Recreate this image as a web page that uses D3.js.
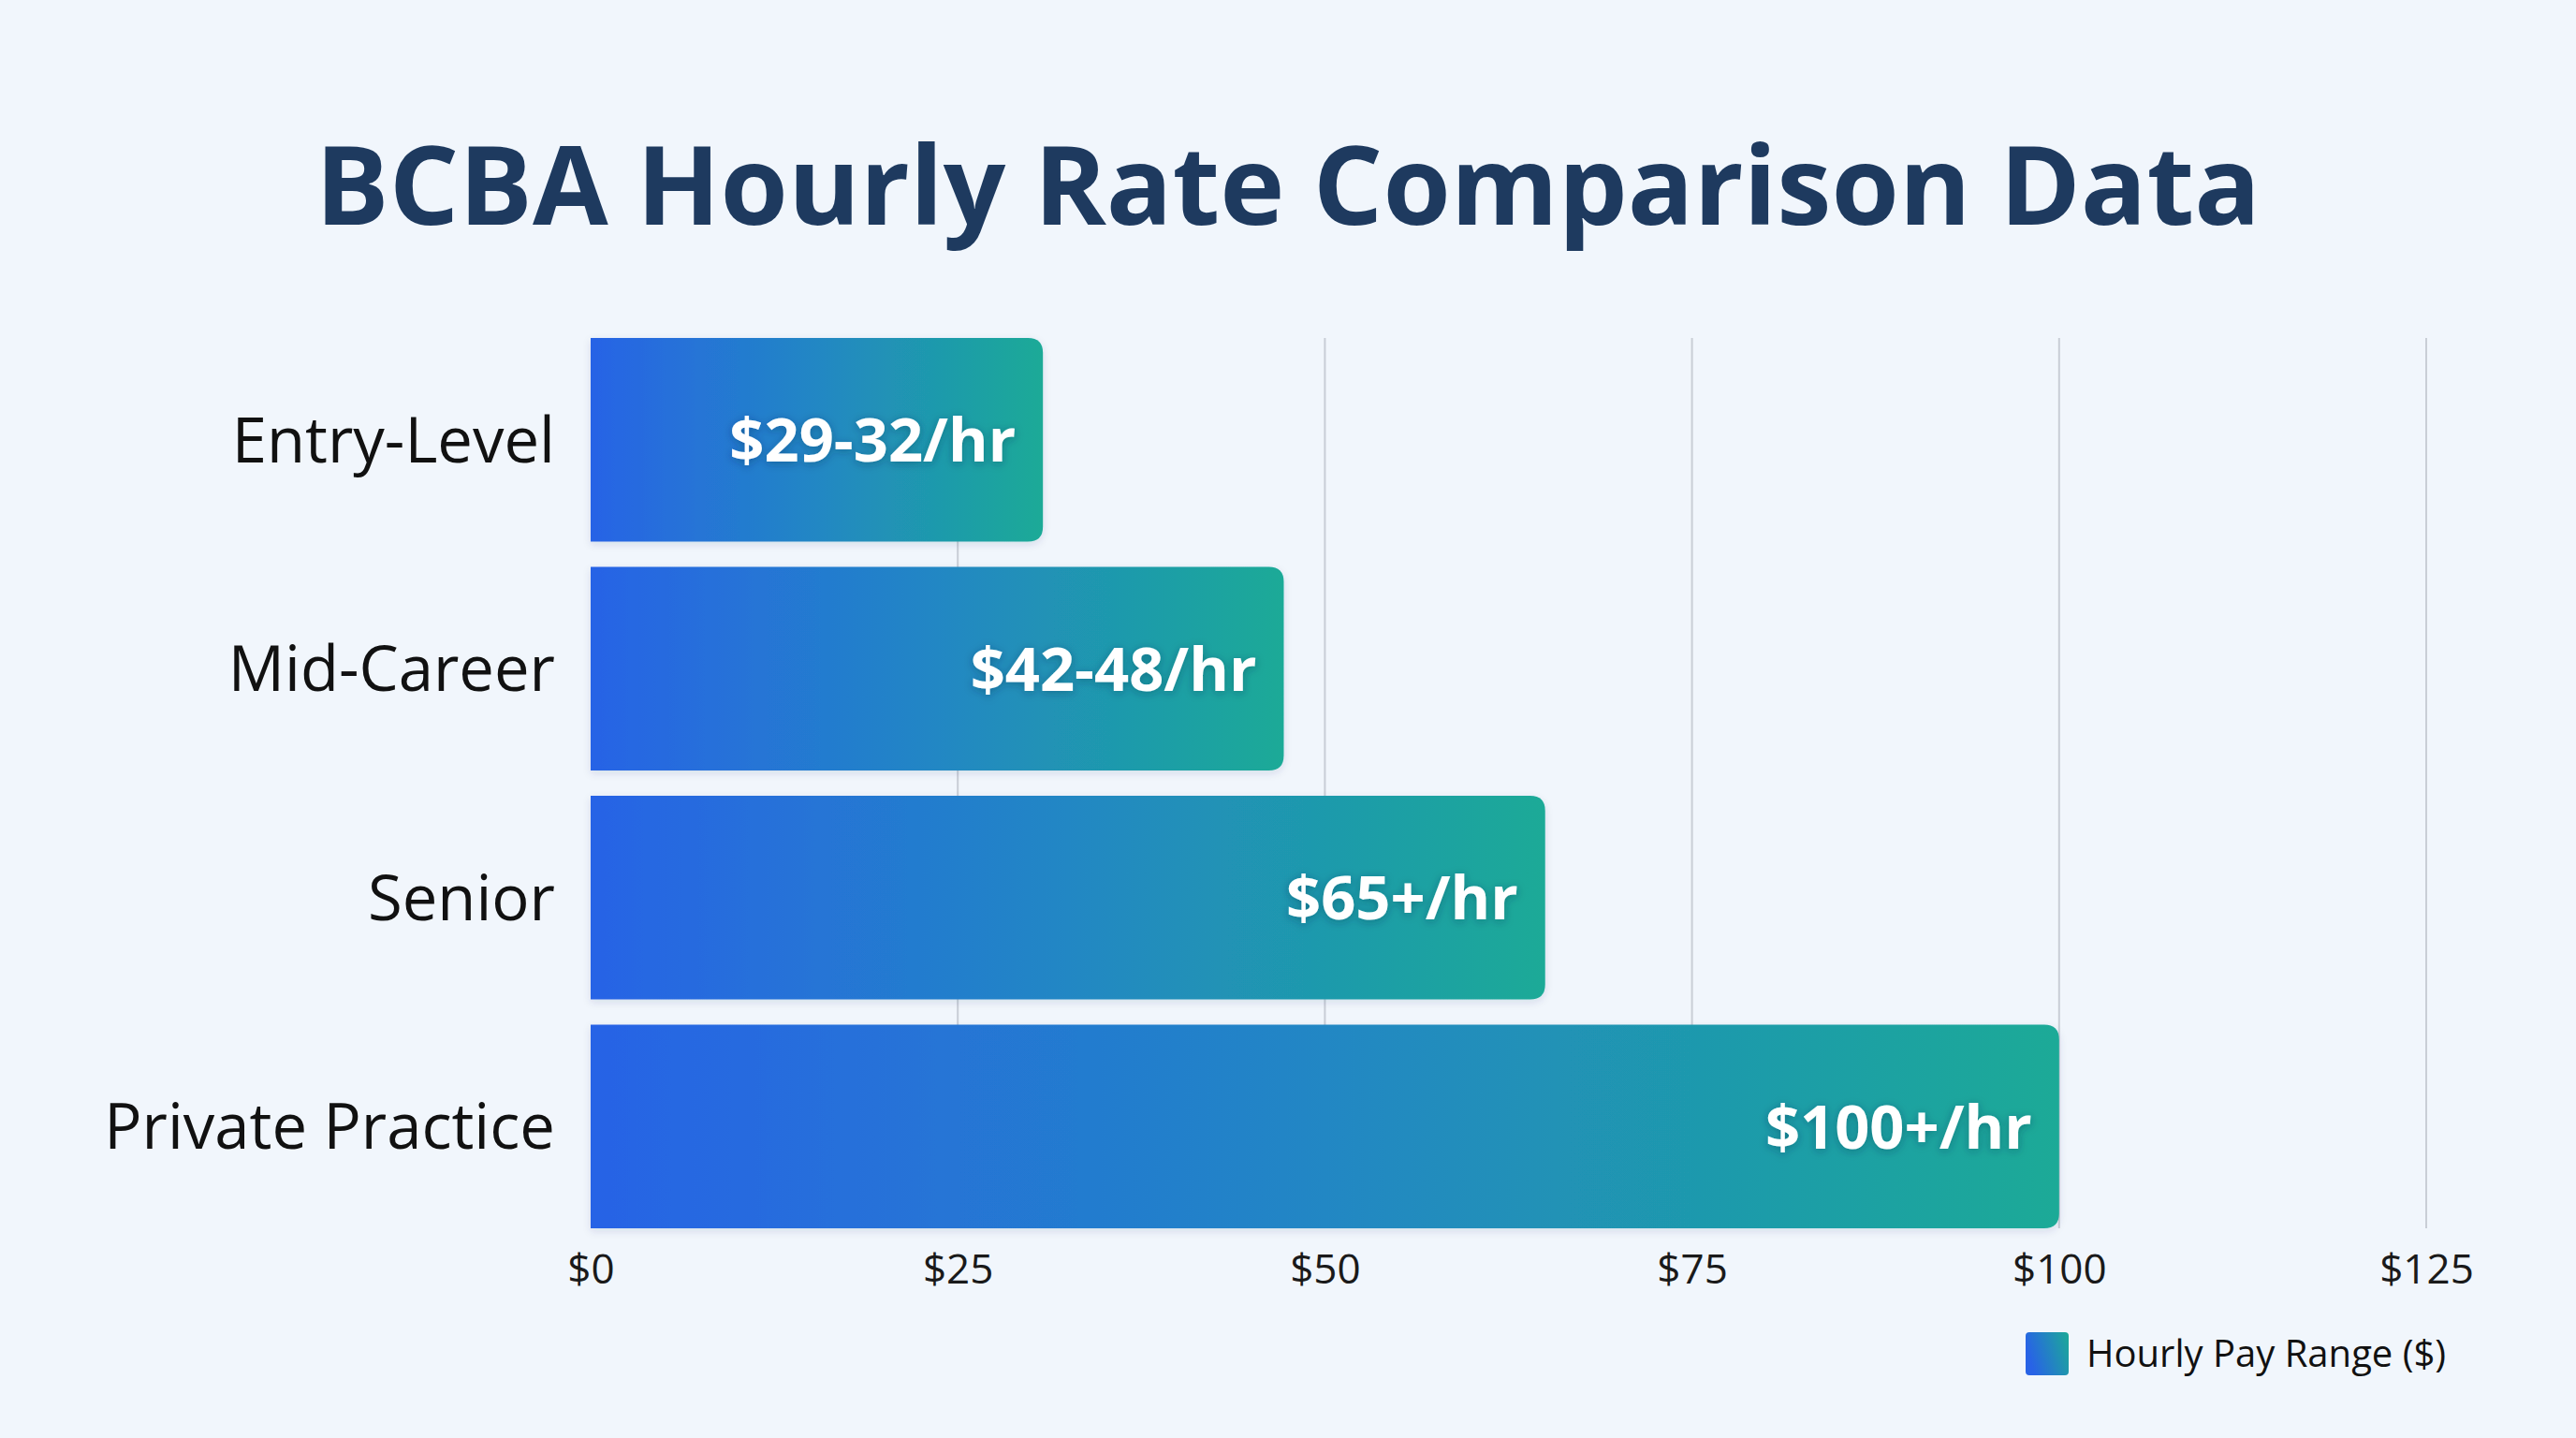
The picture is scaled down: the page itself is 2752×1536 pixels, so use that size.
<!DOCTYPE html>
<html>
<head>
<meta charset="utf-8">
<script src="https://cdn.jsdelivr.net/npm/d3@7"></script>
<style>
  html, body { margin: 0; padding: 0; background: #f1f6fc; }
  svg { display: block; }
</style>
</head>
<body>
<div class="container"></div>
<script>
// data
const categories = ["Entry-Level", "Mid-Career", "Senior", "Private Practice"];
const rateValues = [30.8, 47.2, 65, 100];
const rateLabels = ["$29-32/hr", "$42-48/hr", "$65+/hr", "$100+/hr"];
const tickValues = [0, 25, 50, 75, 100, 125];
const legendLabel = "Hourly Pay Range ($)";
const titleText = "BCBA Hourly Rate Comparison Data";

const width = 2752;
const height = 1536;

const svg = d3
  .select(".container")
  .append("svg")
  .attr("width", width)
  .attr("height", height);

const defs = svg.append("defs");

// per bar gradient, blue -> teal
const grad = defs.append("linearGradient")
  .attr("id", "barGrad")
  .attr("x1", "0%").attr("y1", "0%")
  .attr("x2", "100%").attr("y2", "0%");
grad.append("stop").attr("offset", "0%").attr("stop-color", "#2863e6");
grad.append("stop").attr("offset", "50%").attr("stop-color", "#2287c4");
grad.append("stop").attr("offset", "100%").attr("stop-color", "#1caa97");

const legendGrad = defs.append("linearGradient")
  .attr("id", "legendGrad")
  .attr("x1", "0%").attr("y1", "30%")
  .attr("x2", "100%").attr("y2", "0%");
legendGrad.append("stop").attr("offset", "0%").attr("stop-color", "#2863e6");
legendGrad.append("stop").attr("offset", "100%").attr("stop-color", "#1caa97");

const barShadow = defs.append("filter").attr("id", "barShadow")
  .attr("x", "-5%").attr("y", "-10%").attr("width", "110%").attr("height", "130%");
barShadow.append("feDropShadow")
  .attr("dx", 0).attr("dy", 3).attr("stdDeviation", 4)
  .attr("flood-color", "#1e3a5f").attr("flood-opacity", 0.12);

const textShadow = defs.append("filter").attr("id", "textShadow")
  .attr("x", "-10%").attr("y", "-30%").attr("width", "120%").attr("height", "160%");
textShadow.append("feDropShadow")
  .attr("dx", 0).attr("dy", 2).attr("stdDeviation", 5)
  .attr("flood-color", "#0b2a4a").attr("flood-opacity", 0.35);

// scales
const x = d3.scaleLinear().domain([0, 125]).range([631, 2592]);
const y = d3.scaleBand().domain(categories).range([361, 1312]).paddingInner(0.11);

// title
svg.append("text")
  .attr("x", width / 2)
  .attr("y", 240)
  .attr("text-anchor", "middle")
  .style("font-family", "'Open Sans', sans-serif")
  .style("font-weight", 700)
  .style("font-size", "117px")
  .style("fill", "#1e3a5f")
  .text(titleText);

// gridlines
svg.append("g")
  .selectAll("line")
  .data(tickValues.filter(function (d) { return d > 0; }))
  .enter()
  .append("line")
  .attr("x1", function (d) { return x(d); })
  .attr("x2", function (d) { return x(d); })
  .attr("y1", y.range()[0])
  .attr("y2", y.range()[1])
  .style("stroke", "#c9ced6")
  .style("stroke-width", 2);

// bars, rounded on the right side only
function rightRounded(x0, y0, w, h, r) {
  return "M" + x0 + "," + y0 +
    "H" + (x0 + w - r) +
    "Q" + (x0 + w) + "," + y0 + " " + (x0 + w) + "," + (y0 + r) +
    "V" + (y0 + h - r) +
    "Q" + (x0 + w) + "," + (y0 + h) + " " + (x0 + w - r) + "," + (y0 + h) +
    "H" + x0 + "Z";
}

const rows = categories.map(function (c, i) {
  return { name: c, value: rateValues[i], label: rateLabels[i] };
});

svg.append("g")
  .selectAll("path")
  .data(rows)
  .enter()
  .append("path")
  .attr("d", function (d) {
    return rightRounded(x(0), y(d.name), x(d.value) - x(0), y.bandwidth(), 16);
  })
  .style("fill", "url(#barGrad)")
  .attr("filter", "url(#barShadow)");

// value labels inside bars
svg.append("g")
  .selectAll("text")
  .data(rows)
  .enter()
  .append("text")
  .attr("x", function (d) { return x(d.value) - 29; })
  .attr("y", function (d) { return y(d.name) + y.bandwidth() / 2; })
  .attr("dy", "0.36em")
  .attr("text-anchor", "end")
  .attr("filter", "url(#textShadow)")
  .style("font-family", "'Open Sans', sans-serif")
  .style("font-weight", 700)
  .style("font-size", "65px")
  .style("fill", "#ffffff")
  .text(function (d) { return d.label; });

// category labels
svg.append("g")
  .selectAll("text")
  .data(categories)
  .enter()
  .append("text")
  .attr("x", 593)
  .attr("y", function (d) { return y(d) + y.bandwidth() / 2; })
  .attr("dy", "0.36em")
  .attr("text-anchor", "end")
  .style("font-family", "'Open Sans', sans-serif")
  .style("font-size", "67px")
  .style("fill", "#111111")
  .text(function (d) { return d; });

// x axis
const xAxis = svg.append("g")
  .attr("transform", "translate(0," + y.range()[1] + ")")
  .call(d3.axisBottom(x)
    .tickValues(tickValues)
    .tickFormat(function (d) { return "$" + d; })
    .tickSize(0)
    .tickPadding(28));
xAxis.select(".domain").remove();
xAxis.selectAll("text")
  .style("font-family", "'Open Sans', sans-serif")
  .style("font-size", "44px")
  .style("fill", "#1a1a1a");

// legend
const legend = svg.append("g").attr("transform", "translate(2164,1423)");
legend.append("rect")
  .attr("width", 46).attr("height", 46)
  .attr("rx", 4)
  .style("fill", "url(#legendGrad)");
legend.append("text")
  .attr("x", 65)
  .attr("y", 23)
  .attr("dy", "0.36em")
  .style("font-family", "'Open Sans', sans-serif")
  .style("font-size", "40px")
  .style("fill", "#111111")
  .text(legendLabel);
</script>
</body>
</html>
